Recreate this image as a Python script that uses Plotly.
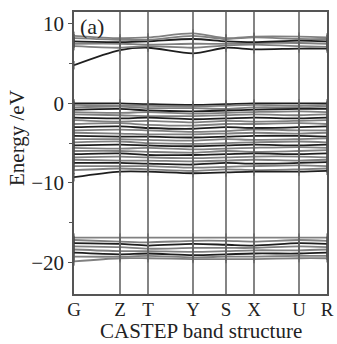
import plotly.graph_objects as go

# k-path labels and cumulative path positions
kpoint_labels = ["G", "Z", "T", "Y", "S", "X", "U", "R"]
kpoint_pos = [0, 46, 74, 119, 152, 180, 225, 253]

# Conduction bands (eV) at G Z T Y S X U R
cond_1 = [4.8, 6.7, 7.0, 6.3, 7.0, 6.8, 6.9, 6.9]
cond_2 = [7.2, 7.0, 7.2, 7.0, 7.3, 7.4, 7.2, 7.1]
cond_3 = [7.5, 7.5, 7.4, 7.5, 7.5, 7.6, 7.6, 7.5]
cond_4 = [7.8, 7.7, 7.8, 8.1, 7.8, 7.7, 7.9, 7.8]
cond_5 = [8.2, 8.0, 8.0, 8.5, 8.1, 8.3, 8.1, 8.1]
cond_6 = [8.5, 8.2, 8.3, 8.8, 8.2, 8.4, 8.4, 8.3]

# Valence bands (eV)
val_01 = [0.0, 0.0, -0.1, -0.2, -0.1, 0.0, 0.0, 0.0]
val_02 = [-0.2, -0.3, -0.3, -0.4, -0.3, -0.2, -0.3, -0.2]
val_03 = [-0.5, -0.4, -0.6, -0.6, -0.7, -0.5, -0.5, -0.4]
val_04 = [-0.8, -0.7, -0.9, -1.0, -0.9, -0.8, -0.7, -0.7]
val_05 = [-1.1, -1.2, -1.1, -1.3, -1.2, -1.1, -1.0, -1.1]
val_06 = [-1.4, -1.5, -1.6, -1.6, -1.5, -1.4, -1.5, -1.4]
val_07 = [-1.8, -1.9, -1.8, -2.0, -1.9, -1.8, -1.9, -1.8]
val_08 = [-2.1, -2.3, -2.2, -2.4, -2.2, -2.3, -2.2, -2.1]
val_09 = [-2.6, -2.5, -2.7, -2.8, -2.6, -2.6, -2.5, -2.6]
val_10 = [-3.0, -2.9, -3.1, -3.2, -3.0, -3.1, -3.0, -2.9]
val_11 = [-3.4, -3.3, -3.4, -3.6, -3.5, -3.3, -3.4, -3.4]
val_12 = [-3.7, -3.8, -3.9, -3.9, -3.8, -3.7, -3.8, -3.7]
val_13 = [-4.1, -4.2, -4.2, -4.3, -4.2, -4.1, -4.1, -4.2]
val_14 = [-4.5, -4.5, -4.6, -4.7, -4.5, -4.6, -4.5, -4.4]
val_15 = [-4.9, -4.8, -5.0, -5.1, -5.0, -4.9, -4.8, -4.9]
val_16 = [-5.3, -5.2, -5.3, -5.4, -5.3, -5.2, -5.3, -5.2]
val_17 = [-5.6, -5.7, -5.6, -5.8, -5.7, -5.6, -5.5, -5.6]
val_18 = [-6.0, -6.0, -6.1, -6.2, -6.0, -6.1, -6.0, -5.9]
val_19 = [-6.4, -6.3, -6.5, -6.5, -6.4, -6.3, -6.4, -6.3]
val_20 = [-6.8, -6.7, -6.8, -6.9, -6.8, -6.7, -6.7, -6.8]
val_21 = [-7.1, -7.2, -7.2, -7.3, -7.2, -7.1, -7.2, -7.1]
val_22 = [-7.5, -7.5, -7.6, -7.7, -7.5, -7.6, -7.5, -7.4]
val_23 = [-7.9, -7.9, -7.9, -8.1, -8.0, -7.9, -7.8, -7.9]
val_24 = [-8.4, -8.2, -8.3, -8.5, -8.3, -8.4, -8.3, -8.2]
val_25 = [-9.3, -8.6, -8.6, -8.8, -8.7, -8.6, -8.6, -8.5]

# Low-lying bands (eV)
low_1 = [-16.9, -16.9, -16.9, -16.9, -16.9, -16.9, -16.9, -16.9]
low_2 = [-17.2, -17.4, -17.5, -17.3, -17.3, -17.4, -17.2, -17.3]
low_3 = [-17.6, -17.7, -17.9, -17.7, -17.8, -17.9, -17.6, -17.7]
low_4 = [-18.0, -18.1, -18.3, -18.2, -18.2, -18.2, -18.0, -18.1]
low_5 = [-18.4, -18.6, -18.6, -18.7, -18.6, -18.5, -18.5, -18.4]
low_6 = [-18.8, -19.0, -18.9, -19.1, -19.0, -18.9, -18.9, -18.8]
low_7 = [-19.3, -19.3, -19.2, -19.4, -19.3, -19.3, -19.2, -19.2]
low_8 = [-19.9, -19.5, -19.5, -19.6, -19.6, -19.6, -19.5, -19.5]

cond_bands = [cond_1, cond_2, cond_3, cond_4, cond_5, cond_6]
val_bands = [val_01, val_02, val_03, val_04, val_05, val_06, val_07, val_08,
             val_09, val_10, val_11, val_12, val_13, val_14, val_15, val_16,
             val_17, val_18, val_19, val_20, val_21, val_22, val_23, val_24, val_25]
low_bands = [low_1, low_2, low_3, low_4, low_5, low_6, low_7, low_8]

y_ticks = [10, 0, -10, -20]

FONT = "Liberation Serif, Times New Roman, serif"
W, H = 337, 344
ML, MR, MT, MB = 74, 10, 12, 50
PW, PH = W - ML - MR, H - MT - MB


def px_x(x):
    return (x - ML) / PW


def px_y(y):
    return 1 - (y - MT) / PH


fig = go.Figure()

for i, band in enumerate(cond_bands + val_bands + low_bands):
    color = "#1e1e1e" if i % 3 == 0 else "#808080"
    fig.add_trace(go.Scatter(
        x=kpoint_pos, y=band, mode="lines+markers",
        line=dict(color=color, width=1.8, shape="spline", smoothing=0.8),
        marker=dict(symbol="line-ns", size=6, line=dict(color="#444", width=1)),
        showlegend=False, hoverinfo="skip"))

# vertical high-symmetry lines
for xp in kpoint_pos[1:-1]:
    fig.add_vline(x=xp, line=dict(color="#666", width=1.6), layer="above")

fig.add_annotation(x=px_x(78), y=px_y(12), xref="paper", yref="paper", text="(a)",
                   showarrow=False, xanchor="left", yanchor="top",
                   font=dict(family=FONT, size=22, color="#222"))

# axis titles
fig.add_annotation(x=px_x(17), y=px_y(138), xref="paper", yref="paper",
                   text="Energy /eV", showarrow=False, textangle=-90,
                   xanchor="center", yanchor="middle",
                   font=dict(family=FONT, size=21, color="#222"))
fig.add_annotation(x=0.5, y=px_y(344), xref="paper", yref="paper",
                   text="CASTEP band structure", showarrow=False,
                   xanchor="center", yanchor="bottom", borderpad=0,
                   font=dict(family=FONT, size=21, color="#222"))

fig.update_layout(
    width=W, height=H,
    margin=dict(l=ML, r=MR, t=MT, b=MB),
    paper_bgcolor="white", plot_bgcolor="white",
    font=dict(family=FONT, size=21, color="#222"),
    xaxis=dict(range=[kpoint_pos[0], kpoint_pos[-1]], tickvals=kpoint_pos,
               ticktext=kpoint_labels, showgrid=False, zeroline=False,
               showline=True, mirror=True, linecolor="#555", linewidth=1.6,
               ticks="", tickfont=dict(size=19), ticklabelstandoff=-3,
               automargin=False),
    yaxis=dict(range=[-24, 11.5], tickvals=y_ticks, showgrid=False,
               zeroline=False, showline=True, mirror=True, linecolor="#555",
               linewidth=1.6, ticks="outside", ticklen=4, tickcolor="#555",
               minor=dict(dtick=5, ticks="outside", ticklen=3, tickcolor="#555"),
               tickfont=dict(size=21), automargin=False),
)

fig.write_html(
    "out.html",
    config={"displayModeBar": False},
    post_script="document.body.style.margin='0';document.body.style.overflow='hidden';",
)
